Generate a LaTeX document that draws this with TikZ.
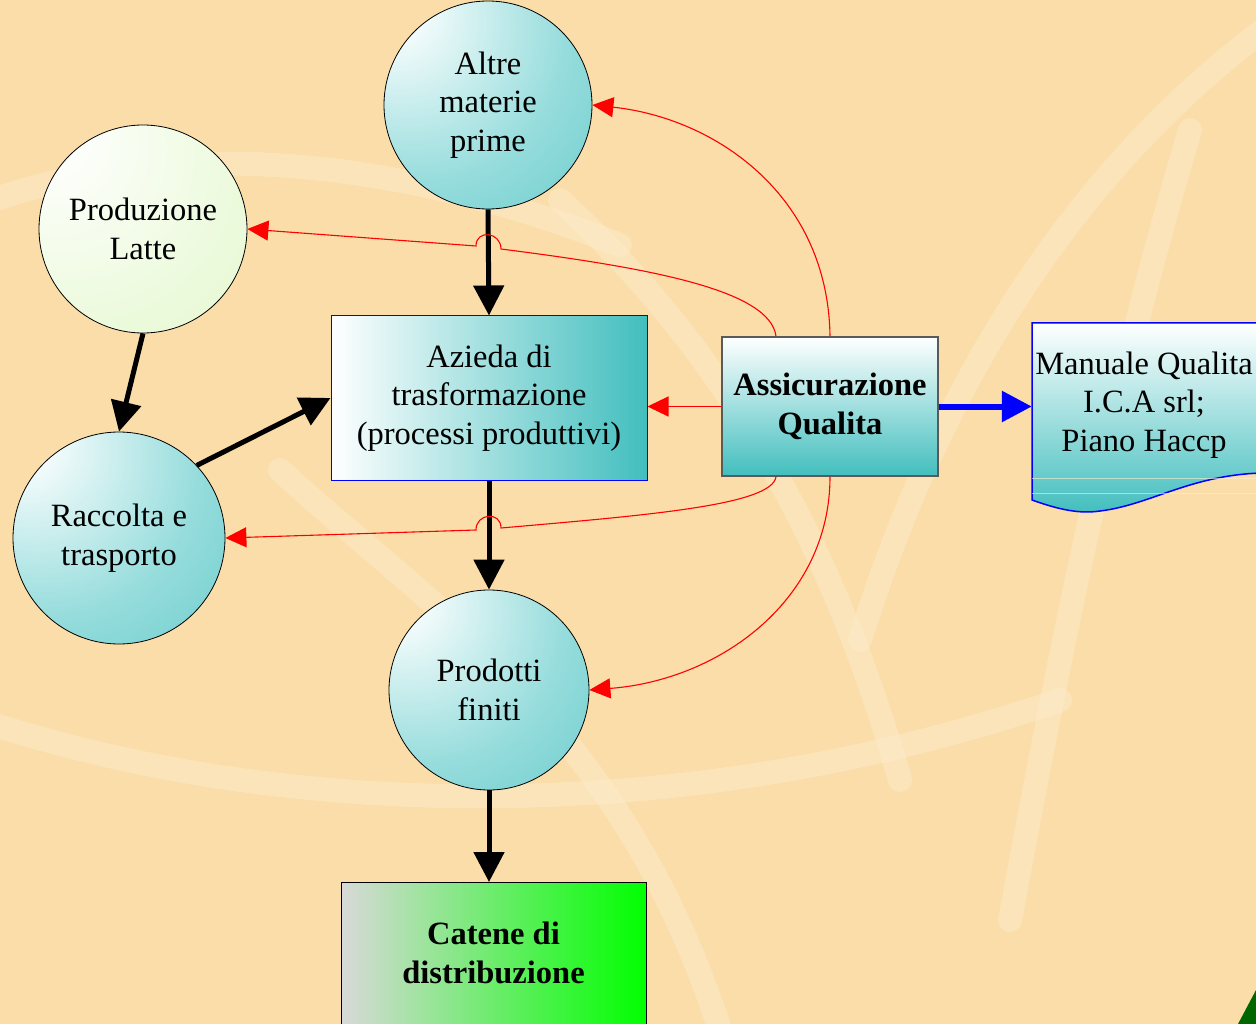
\documentclass[tikz,border=0pt]{standalone}
\usepackage{fontspec}
\setmainfont{Liberation Serif}
\usetikzlibrary{arrows.meta,calc}
\definecolor{bgpeach}{RGB}{250,221,168}
\definecolor{swirlc}{RGB}{253,238,208}
\definecolor{tealc}{RGB}{66,190,190}
\definecolor{tealmid}{RGB}{150,220,220}
\definecolor{palegreen}{RGB}{228,248,206}
\definecolor{catgray}{RGB}{217,217,217}
\definecolor{catgreen}{RGB}{0,255,0}
\definecolor{bordergray}{RGB}{90,90,90}
\pgfdeclareradialshading{tealball}{\pgfqpoint{-25bp}{25bp}}{color(0bp)=(white); color(4bp)=(white); color(35bp)=(tealmid); color(75bp)=(tealc); color(100bp)=(tealc)}
\pgfdeclareradialshading{greenball}{\pgfqpoint{-25bp}{25bp}}{color(0bp)=(white); color(4bp)=(white); color(40bp)=(palegreen!75!white); color(75bp)=(palegreen); color(100bp)=(palegreen)}
\tikzset{
  txt/.style={font=\fontsize{32.5}{38.5}\selectfont, align=center},
  txtb/.style={font=\fontsize{32.5}{38.5}\selectfont\bfseries, align=center},
  tball/.style={circle, draw=black, line width=0.8pt, inner sep=0pt, shading=tealball, txt},
  gball/.style={circle, draw=black, line width=0.8pt, inner sep=0pt, shading=greenball, txt},
  blackarrow/.style={line width=5pt, -{Triangle[width=30pt,length=30pt]}},
  bluearrow/.style={draw=blue, line width=6pt, -{Triangle[width=30pt,length=30pt]}},
  redline/.style={draw=red, line width=1.1pt, -{Triangle[width=20pt,length=21pt]}},
  swirlstroke/.style={draw=swirlc, line width=24pt, line cap=round, opacity=0.45},
}
\begin{document}
\begin{tikzpicture}[x=1pt,y=-1pt]
\useasboundingbox (0,0) rectangle (1256,1024);
\clip (0,0) rectangle (1256,1024);
\fill[bgpeach] (0,0) rectangle (1256,1024);
% background swirls
\draw[swirlstroke] (-20,205) .. controls (150,140) and (380,150) .. (620,245);
\draw[swirlstroke] (1270,25) .. controls (1100,150) and (950,350) .. (860,640);
\draw[swirlstroke] (1190,130) .. controls (1110,400) and (1060,650) .. (1010,920);
\draw[swirlstroke] (-20,720) .. controls (250,810) and (650,840) .. (1060,700);
\draw[swirlstroke] (280,470) .. controls (420,600) and (620,720) .. (720,1030);
\draw[swirlstroke] (560,200) .. controls (700,330) and (820,500) .. (900,780);
\fill[green!40!black] (1238,1024) -- (1256,990) -- (1256,1024) -- cycle;

% nodes
\node[tball, minimum size=208] (altre) at (488,105) {Altre\\materie\\prime};
\node[gball, minimum size=208] (lat) at (143,229) {Produzione\\Latte};
\node[tball, minimum size=212] (rac) at (119,538) {Raccolta e\\trasporto};
\node[tball, minimum size=200] (prod) at (489,690) {Prodotti\\finiti};
\node[draw=blue, line width=1pt, left color=white, right color=tealc, minimum width=316, minimum height=164, txt] (az) at (489,398) {Azieda di\\trasformazione\\(processi produttivi)};
\node[draw=bordergray, line width=1.5pt, top color=white, bottom color=tealc, minimum width=216, minimum height=139, txtb] (qa) at (830,406.5) {Assicurazione\\Qualita};
% document shape
\shade[top color=white, bottom color=tealc] (1032,323) -- (1262,323) -- (1262,473) .. controls (1190,475) and (1150,505) .. (1100,511) .. controls (1080,514) and (1060,510) .. (1032,500) -- cycle;
\draw[blue, line width=1.5pt] (1262,473) .. controls (1190,475) and (1150,505) .. (1100,511) .. controls (1080,514) and (1060,510) .. (1032,500) -- (1032,323) -- (1262,323);
\draw[swirlc, line width=1pt, opacity=0.6] (1032,478) -- (1262,478) (1032,493) -- (1262,493);
\node[txt, minimum width=224, inner sep=0pt] (man) at (1144,405) {Manuale Qualita\\I.C.A srl;\\Piano Haccp};
% catene
\node[draw=black, line width=1pt, left color=catgray, right color=catgreen, minimum width=305, minimum height=170, anchor=north] (cat) at (493.5,882) {};
\node[txtb] (catt) at (493.5,953) {Catene di\\distribuzione};

% black arrows
\draw[blackarrow] (altre.south) -- (az.north);
\draw[blackarrow] (lat.south) -- (rac.north);
\draw[blackarrow] (rac.43) -- (az.west);
\draw[blackarrow] (az.south) -- (prod.north);
\draw[blackarrow] (prod.south) -- (prod.south |- cat.north);
% blue arrow
\draw[bluearrow] (qa.east) -- (qa.east -| man.west);

% red connectors
\coordinate (qaN2) at ($(qa.north)+(-54,0)$);
\coordinate (qaS2) at ($(qa.south)+(-54,0)$);
\coordinate (hop1r) at (501,249);
\coordinate (hop1l) at (476,246);
\coordinate (hop2r) at (501,528);
\coordinate (hop2l) at (476,530);
\draw[redline] (qa.north) .. controls (828,195) and (715,118) .. (altre.east);
\draw[redline] (qaN2) .. controls (770,290) and (650,268) .. (hop1r) .. controls (501,232) and (476,229) .. (hop1l) -- (lat.east);
\draw[redline] (qa.west) -- (qa.west -| az.east);
\draw[redline] (qaS2) .. controls (772,505) and (650,515) .. (hop2r) .. controls (501,511) and (476,513) .. (hop2l) -- (rac.east);
\draw[redline] (qa.south) .. controls (830,600) and (720,680) .. (prod.east);
\end{tikzpicture}
\end{document}
